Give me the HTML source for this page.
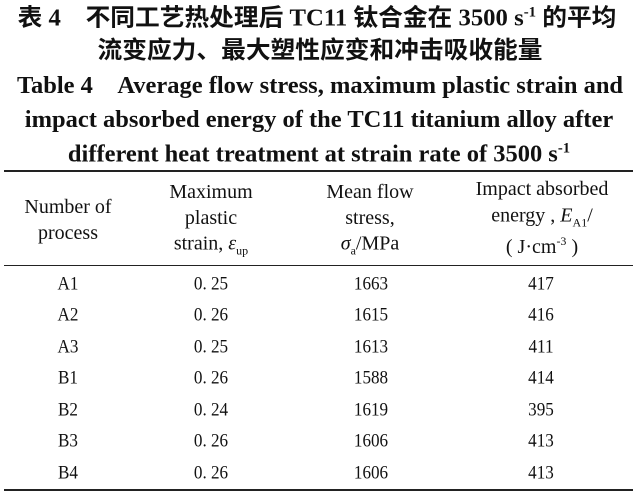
<!DOCTYPE html>
<html><head><meta charset="utf-8"><style>
body{margin:0;width:637px;height:499px;background:#fff;position:relative;overflow:hidden;font-family:"Liberation Serif","Noto Serif CJK SC",serif;color:#111}
.t{position:absolute;white-space:nowrap;transform:translate(-50%,-50%) scaleX(.9);line-height:1}
.c{font-family:"Liberation Serif","Noto Sans CJK SC",sans-serif;font-size:24px;font-weight:bold;transform:translate(-50%,-50%) scaleX(1.03)}
.e{font-size:24px;font-weight:bold;transform:translate(-50%,-50%) scaleX(1.02)}
.h{font-size:20px;transform:translate(-50%,-50%) scaleX(1.0)}
.b{font-size:19px}
.l{position:absolute;left:4px;width:629px;background:#222}
sub,sup{font-size:60%}
</style></head><body>
<div class="t c" style="left:317px;top:18px">表 4　不同工艺热处理后 TC11 钛合金在 3500 s<sup>-1</sup> 的平均</div>
<div class="t c" style="left:320px;top:51px">流变应力、最大塑性应变和冲击吸收能量</div>
<div class="t e" style="left:320px;top:86px">Table 4　Average flow stress, maximum plastic strain and</div>
<div class="t e" style="left:319px;top:120px">impact absorbed energy of the TC11 titanium alloy after</div>
<div class="t e" style="left:319px;top:154px">different heat treatment at strain rate of 3500 s<sup>-1</sup></div>
<div class="l" style="top:170px;height:2px"></div>
<div class="t h" style="left:68px;top:207px">Number of</div>
<div class="t h" style="left:68px;top:233px">process</div>
<div class="t h" style="left:211px;top:192px">Maximum</div>
<div class="t h" style="left:211px;top:218px">plastic</div>
<div class="t h" style="left:211px;top:245px">strain, <i>ε</i><sub>up</sub></div>
<div class="t h" style="left:370px;top:192px">Mean flow</div>
<div class="t h" style="left:370px;top:218px">stress,</div>
<div class="t h" style="left:370px;top:245px"><i>σ</i><sub>a</sub>/MPa</div>
<div class="t h" style="left:542px;top:189px">Impact absorbed</div>
<div class="t h" style="left:542px;top:217px">energy , <i>E</i><sub>A1</sub>/</div>
<div class="t h" style="left:542px;top:246px">( J·cm<sup>-3</sup> )</div>
<div class="l" style="top:265px;height:1px"></div>
<div class="t b" style="left:68px;top:284px">A1</div><div class="t b" style="left:211px;top:284px">0. 25</div><div class="t b" style="left:371px;top:284px">1663</div><div class="t b" style="left:541px;top:284px">417</div>
<div class="t b" style="left:68px;top:315px">A2</div><div class="t b" style="left:211px;top:315px">0. 26</div><div class="t b" style="left:371px;top:315px">1615</div><div class="t b" style="left:541px;top:315px">416</div>
<div class="t b" style="left:68px;top:347px">A3</div><div class="t b" style="left:211px;top:347px">0. 25</div><div class="t b" style="left:371px;top:347px">1613</div><div class="t b" style="left:541px;top:347px">411</div>
<div class="t b" style="left:68px;top:378px">B1</div><div class="t b" style="left:211px;top:378px">0. 26</div><div class="t b" style="left:371px;top:378px">1588</div><div class="t b" style="left:541px;top:378px">414</div>
<div class="t b" style="left:68px;top:410px">B2</div><div class="t b" style="left:211px;top:410px">0. 24</div><div class="t b" style="left:371px;top:410px">1619</div><div class="t b" style="left:541px;top:410px">395</div>
<div class="t b" style="left:68px;top:441px">B3</div><div class="t b" style="left:211px;top:441px">0. 26</div><div class="t b" style="left:371px;top:441px">1606</div><div class="t b" style="left:541px;top:441px">413</div>
<div class="t b" style="left:68px;top:473px">B4</div><div class="t b" style="left:211px;top:473px">0. 26</div><div class="t b" style="left:371px;top:473px">1606</div><div class="t b" style="left:541px;top:473px">413</div>
<div class="l" style="top:489px;height:2px"></div>
</body></html>
